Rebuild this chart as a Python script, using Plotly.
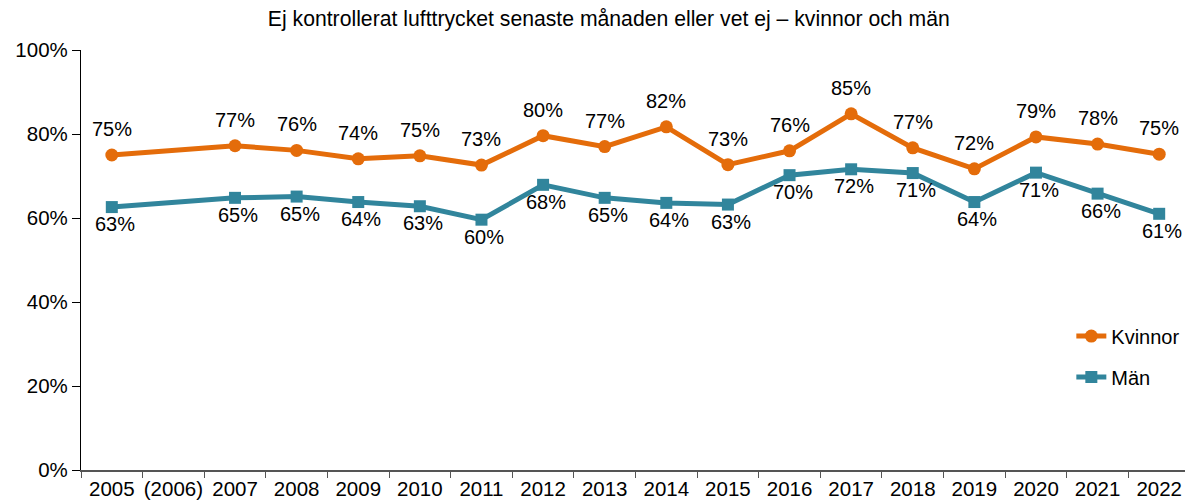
import plotly.graph_objects as go

years = ["2005", "(2006)", "2007", "2008", "2009", "2010", "2011", "2012", "2013",
         "2014", "2015", "2016", "2017", "2018", "2019", "2020", "2021", "2022"]

kvinnor = [0.750, None, 0.772, 0.761, 0.741, 0.748, 0.726, 0.796, 0.770,
           0.817, 0.727, 0.760, 0.848, 0.767, 0.717, 0.793, 0.776, 0.752]
man = [0.626, None, 0.648, 0.651, 0.638, 0.628, 0.596, 0.679, 0.648,
       0.636, 0.632, 0.702, 0.716, 0.707, 0.638, 0.708, 0.658, 0.610]

orange = "#E46C0A"
teal = "#31859C"
font = "Liberation Sans, Arial, sans-serif"

fig = go.Figure()

fig.add_trace(go.Scatter(
    x=years, y=kvinnor, name="Kvinnor", legendgroup="k",
    mode="lines+markers",
    connectgaps=True,
    line=dict(color=orange, width=5),
    marker=dict(symbol="circle", size=13, color=orange),
))

fig.add_trace(go.Scatter(
    x=years, y=man, name="Män", legendgroup="m",
    mode="lines+markers",
    connectgaps=True,
    line=dict(color=teal, width=5),
    marker=dict(symbol="square", size=12, color=teal),
))

# value labels: women above the points, men below
# (category index as x, year strings would be read as numbers)
for i, v in enumerate(kvinnor):
    if v is not None:
        fig.add_annotation(x=i, y=v, text=f"{v:.0%}", showarrow=False,
                           yshift=26, font=dict(size=20, color="black"))
for i, v in enumerate(man):
    if v is not None:
        fig.add_annotation(x=i, y=v, text=f"{v:.0%}", showarrow=False,
                           yshift=-17, xshift=3, font=dict(size=20, color="black"))

# the page body has an 8px margin, so the figure is sized to fill the rest
fig.update_layout(
    width=1185, height=493,
    margin=dict(l=73, r=3, t=42, b=31, autoexpand=False),
    paper_bgcolor="white",
    plot_bgcolor="white",
    font=dict(family=font, size=20, color="black"),
    title=dict(text="Ej kontrollerat lufttrycket senaste månaden eller vet ej – kvinnor och män",
               x=0.507, xanchor="center", y=0.978, yanchor="middle",
               font=dict(size=21.2, family=font, color="black")),
    legend=dict(x=0.893, y=0.27, xanchor="left", yanchor="middle",
                bgcolor="rgba(0,0,0,0)", font=dict(size=20),
                tracegroupgap=12),
)

fig.update_xaxes(
    type="category",
    categoryorder="array", categoryarray=years,
    range=[-0.5, len(years) - 0.5],
    automargin=False,
    tickangle=0,
    showline=True, linecolor="#555555", linewidth=1.5,
    ticks="outside", tickson="boundaries", ticklen=6, tickcolor="#555555",
    showgrid=False, zeroline=False,
    tickfont=dict(size=20.5),
)

fig.update_yaxes(
    range=[0, 1],
    automargin=False,
    tickvals=[0, 0.2, 0.4, 0.6, 0.8, 1.0],
    tickformat=".0%",
    showline=True, linecolor="black", linewidth=1.2,
    ticks="outside", ticklen=8, tickcolor="black",
    showgrid=False, zeroline=False,
    tickfont=dict(size=20.5),
)

fig.write_html("out.html")
